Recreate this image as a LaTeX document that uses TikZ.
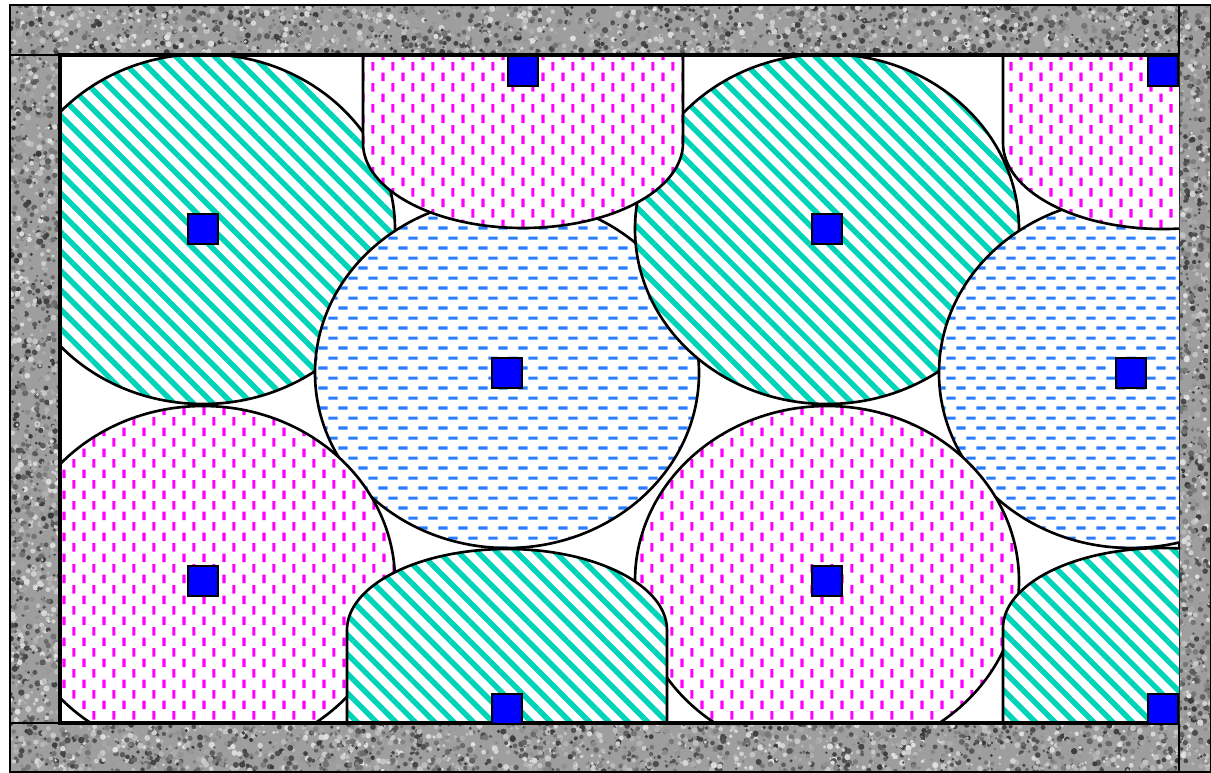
\documentclass[tikz,border=0pt]{standalone}
\usetikzlibrary{patterns,patterns.meta}
\definecolor{stripeteal}{RGB}{0,212,184}
\definecolor{dashmag}{RGB}{255,0,255}
\definecolor{dashblue}{RGB}{40,125,255}
\definecolor{markblue}{RGB}{0,0,255}

% vertical staggered dashes
\pgfdeclarepatternformonly{vdashes}{\pgfqpoint{0pt}{0pt}}{\pgfqpoint{11.34pt}{11.9pt}}{\pgfqpoint{11.34pt}{11.9pt}}{%
  \pgfsetlinewidth{1.8pt}%
  \pgfpathmoveto{\pgfqpoint{2.83pt}{0.5pt}}\pgfpathlineto{\pgfqpoint{2.83pt}{5.4pt}}%
  \pgfpathmoveto{\pgfqpoint{8.5pt}{6.45pt}}\pgfpathlineto{\pgfqpoint{8.5pt}{11.35pt}}%
  \pgfusepath{stroke}}
% horizontal staggered dashes
\pgfdeclarepatternformonly{hdashes}{\pgfqpoint{0pt}{0pt}}{\pgfqpoint{11.34pt}{11.34pt}}{\pgfqpoint{11.34pt}{11.34pt}}{%
  \pgfsetlinewidth{1.8pt}%
  \pgfpathmoveto{\pgfqpoint{0.2pt}{2.83pt}}\pgfpathlineto{\pgfqpoint{5.5pt}{2.83pt}}%
  \pgfpathmoveto{\pgfqpoint{5.9pt}{8.5pt}}\pgfpathlineto{\pgfqpoint{11.2pt}{8.5pt}}%
  \pgfusepath{stroke}}

\tikzset{
  particle/.style={x radius=192, y radius=175},
  tealbody/.style={preaction={fill=white}, pattern={Lines[angle=-45,distance=7.8pt,line width=3.1pt]}, pattern color=stripeteal, draw=black, line width=1.5pt},
  pinkbody/.style={preaction={fill=white}, pattern=vdashes, pattern color=dashmag, draw=black, line width=1.5pt},
  bluebody/.style={preaction={fill=white}, pattern=hdashes, pattern color=dashblue, draw=black, line width=1.5pt},
  marker/.style={draw=black, fill=markblue, line width=1.3pt, minimum size=0.61cm, inner sep=0pt},
  slabline/.style={draw=black, line width=0.9pt}
}

% granite slab: x0,y0,x1,y1,number of grains
\newcommand\granite[5]{%
  \begin{scope}
    \clip (#1,#2) rectangle (#3,#4);
    \fill[black!38] (#1,#2) rectangle (#3,#4);
    \foreach \k in {1,...,#5}{
      \pgfmathsetmacro\gx{#1+rnd*(#3-#1)}
      \pgfmathsetmacro\gy{#2+rnd*(#4-#2)}
      \pgfmathsetmacro\gs{int(12+66*rnd)}
      \pgfmathsetmacro\gr{1.2+2*rnd}
      \fill[black!\gs] (\gx,\gy) circle[radius=\gr];
    }
  \end{scope}
  \draw[slabline] (#1,#2) rectangle (#3,#4);}

\begin{document}
\begin{tikzpicture}[x=0.02cm, y=-0.02cm]
  \useasboundingbox (0,0) rectangle (1211,772);
  \pgfmathsetseed{17}

  %% Frame
  \granite{10}{5}{1179}{55}{2200}
  \granite{10}{55}{60}{723}{1250}
  \granite{10}{723}{1179}{772}{2150}
  \granite{1179}{5}{1211}{772}{900}

  %% Particles
  \begin{scope}
    \clip (60,55) rectangle (1179,723);
    \path[tealbody] (203,229) ellipse[particle];
    \path[bluebody] (507,373) ellipse[particle];
    \path[tealbody] (827,229) ellipse[particle];
    \path[bluebody] (1131,373) ellipse[particle];
    \path[pinkbody] (203,581) ellipse[particle];
    \path[pinkbody] (827,581) ellipse[particle];
    \path[tealbody] (347,725) -- (347,630) arc[start angle=180, end angle=360, x radius=160, y radius=81] -- (667,725) -- cycle;
    \path[tealbody] (1003,725) -- (1003,628) arc[start angle=180, end angle=360, x radius=160, y radius=80] -- (1323,725) -- cycle;
    \path[pinkbody] (363,55) -- (363,143) arc[start angle=180, end angle=0, x radius=160, y radius=85] -- (683,55) -- cycle;
    \path[pinkbody] (1003,55) -- (1003,143) arc[start angle=180, end angle=0, x radius=160, y radius=86] -- (1323,55) -- cycle;
  \end{scope}

  %% Box
  \draw[line width=2.4pt, line join=miter] (1179,55) -- (60,55) -- (60,723) -- (1179,723);

  %% Centres
  \node[marker] (m1) at (203,229) {};
  \node[marker] (m2) at (507,373) {};
  \node[marker] (m3) at (827,229) {};
  \node[marker] (m4) at (1131,373) {};
  \node[marker] (m5) at (203,581) {};
  \node[marker] (m6) at (827,581) {};
  \node[marker] (m7) at (523,71) {};
  \node[marker] (m8) at (507,709) {};
  \node[marker] (m9) at (1163,71) {};
  \node[marker] (m10) at (1163,709) {};
\end{tikzpicture}
\end{document}
